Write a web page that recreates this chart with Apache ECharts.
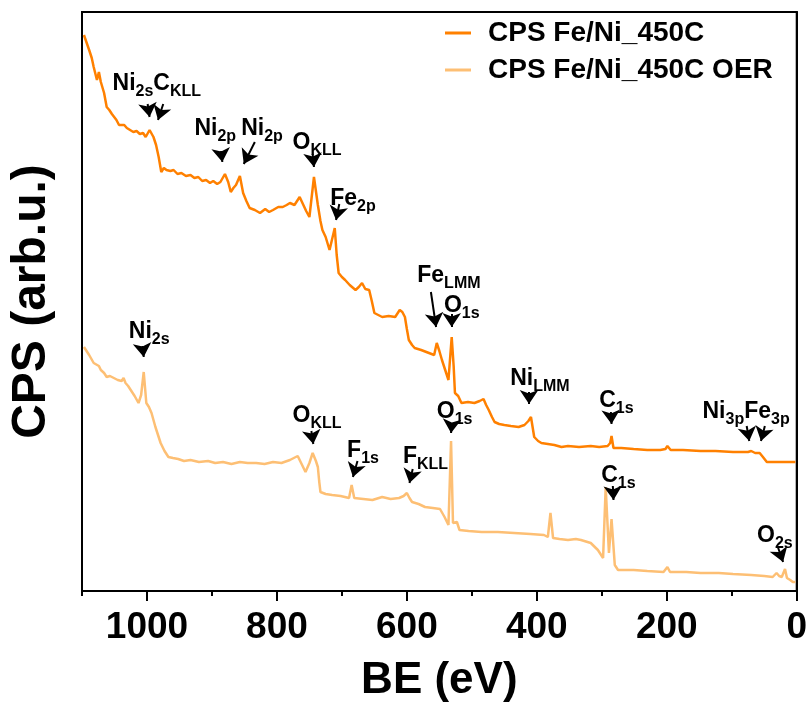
<!DOCTYPE html>
<html>
<head>
<meta charset="utf-8">
<script src="https://cdn.jsdelivr.net/npm/echarts@6/dist/echarts.min.js"></script>
<style>
  html, body { margin: 0; padding: 0; background: #fff; }
  #chart { width: 810px; height: 712px; }
</style>
</head>
<body>
<div id="chart"></div>
<script>
// 数据: [结合能 eV, 强度 (任意单位)]
const pristine = [
  [1097, 556], [1089, 541], [1085, 533], [1082, 524], [1077, 511], [1074, 519], [1071, 509],
  [1066, 498], [1062, 484], [1058, 481], [1054, 477], [1047, 471], [1043, 466], [1040, 464],
  [1035, 466], [1031, 463], [1026, 461], [1021, 459], [1016, 460], [1011, 457], [1006, 458],
  [1002, 454], [996, 461], [990, 454], [986, 446], [982, 434], [978, 419], [974, 423], [970, 421],
  [964, 420], [959, 421], [953, 417], [947, 418], [940, 415], [933, 416], [927, 413], [921, 414],
  [915, 410], [909, 411], [903, 408], [898, 410], [892, 407], [887, 409], [880, 417], [875, 409],
  [871, 399], [867, 403], [863, 406], [857, 415], [852, 398], [847, 390], [842, 383], [834, 381],
  [826, 378], [818, 382], [812, 379], [806, 381], [798, 384], [791, 384], [785, 386], [780, 388],
  [773, 386], [765, 394], [760, 387], [755, 380], [750, 374], [743, 414], [737, 386], [733, 370],
  [730, 361], [725, 354], [719, 341], [711, 363], [708, 336], [705, 318], [700, 314], [695, 311],
  [688, 306], [679, 301], [674, 304], [669, 308], [664, 302], [658, 301], [654, 290], [650, 278],
  [644, 276], [638, 274], [628, 275], [618, 274], [611, 281], [607, 279], [603, 274], [600, 262],
  [597, 251], [592, 246], [588, 243], [578, 241], [566, 238], [558, 236], [554, 248], [550, 240],
  [546, 231], [541, 221], [536, 211], [531, 254], [528, 225], [526, 198], [521, 195], [516, 188],
  [506, 189], [496, 188], [488, 190], [482, 192], [478, 186], [474, 181], [469, 174], [465, 169],
  [458, 167], [450, 166], [440, 165], [428, 164], [419, 166], [413, 170], [409, 174], [404, 154],
  [398, 150], [393, 148], [383, 147], [373, 146], [362, 144], [352, 145], [335, 144], [317, 145],
  [304, 144], [291, 145], [287, 148], [285, 155], [282, 143], [270, 143], [251, 142], [230, 141],
  [210, 141], [202, 142], [199, 145], [194, 141], [175, 141], [148, 140], [125, 140], [98, 139],
  [85, 139], [75, 139], [70, 140], [67, 141], [64, 138], [61, 136], [57, 138], [52, 134],
  [46, 129], [36, 129], [26, 129], [16, 129], [6, 129], [2, 129]
];
const afterOER = [
  [1097, 244], [1089, 236], [1082, 228], [1074, 225], [1071, 221], [1066, 218], [1062, 214],
  [1057, 215], [1051, 213], [1045, 211], [1039, 210], [1036, 213], [1033, 208], [1029, 205],
  [1025, 201], [1019, 195], [1013, 188], [1009, 196], [1005, 219], [1001, 188], [997, 184],
  [993, 178], [987, 164], [983, 156], [979, 148], [973, 140], [967, 134], [960, 133], [952, 132],
  [943, 130], [933, 131], [920, 129], [906, 130], [895, 128], [883, 129], [870, 127], [857, 129],
  [845, 128], [832, 128], [819, 127], [806, 129], [793, 128], [780, 131], [774, 133], [768, 135],
  [762, 127], [756, 119], [750, 128], [745, 138], [740, 130], [737, 124], [735, 110], [733, 99],
  [725, 97], [715, 96], [702, 95], [689, 93], [685, 106], [681, 93], [667, 92], [653, 91],
  [638, 94], [625, 92], [612, 93], [605, 95], [600, 98], [596, 93], [592, 89], [582, 87],
  [572, 84], [560, 83], [549, 82], [542, 74], [536, 66], [532, 150], [529, 68], [523, 69],
  [519, 61], [505, 60], [485, 59], [460, 59], [435, 58], [410, 57], [389, 56], [383, 54],
  [379, 78], [375, 53], [365, 52], [352, 51], [340, 52], [332, 51], [317, 48], [306, 41],
  [298, 33], [294, 104], [289, 38], [285, 72], [280, 26], [275, 21], [262, 21], [251, 21],
  [230, 20], [205, 19], [199, 24], [195, 19], [170, 19], [148, 18], [120, 18], [98, 17],
  [70, 16], [50, 15], [37, 14], [31, 18], [27, 15], [23, 14], [18, 22], [15, 13], [10, 11],
  [6, 9], [2, 9]
];
// 峰标注: [eV, 强度, 文本]
const peakLabels = [
  [1053, 519, '{m|Ni}{s|2s}{m|C}{s|KLL}'],
  [927, 474, '{m|Ni}{s|2p}'],
  [855, 474, '{m|Ni}{s|2p}'],
  [776, 460, '{m|O}{s|KLL}'],
  [718, 404, '{m|Fe}{s|2p}'],
  [584, 327, '{m|Fe}{s|LMM}'],
  [543, 297, '{m|O}{s|1s}'],
  [441, 224, '{m|Ni}{s|LMM}'],
  [304, 202, '{m|C}{s|1s}'],
  [145, 191, '{m|Ni}{s|3p}{m|Fe}{s|3p}'],
  [1028, 271, '{m|Ni}{s|2s}'],
  [776, 187, '{m|O}{s|KLL}'],
  [692, 152, '{m|F}{s|1s}'],
  [606, 146, '{m|F}{s|KLL}'],
  [554, 191, '{m|O}{s|1s}'],
  [301, 127, '{m|C}{s|1s}'],
  [61, 67, '{m|O}{s|2s}']
];
// 箭头: [起点 eV, 起点强度, 终点 eV, 终点强度]
const arrows = [
  [999, 487, 996, 474], [975, 487, 983, 471], [886, 440, 884, 429], [834, 449, 851, 427],
  [745, 437, 743, 424], [704, 387, 709, 371], [563, 299, 555, 264], [531, 277, 531, 264],
  [412, 199, 412, 187], [286, 179, 285, 167], [77, 165, 73, 150], [49, 165, 55, 150],
  [1007, 245, 1005, 234], [747, 160, 744, 147], [676, 130, 683, 114], [591, 122, 596, 108],
  [531, 167, 532, 158], [283, 105, 282, 91], [29, 44, 21, 29]
];
const majorTicks = [0, 200, 400, 600, 800, 1000];
const minorTicks = [100, 300, 500, 700, 900, 1100];

const FONT = "'Liberation Sans', Arial, sans-serif";
const chart = echarts.init(document.getElementById('chart'));

const option = {
  animation: false,
  grid: { left: 78, right: 13, top: 12, bottom: 121, show: true, borderColor: '#000', borderWidth: 2 },
  legend: {
    data: ['CPS Fe/Ni_450C', 'CPS Fe/Ni_450C OER'],
    orient: 'vertical',
    left: 440,
    top: 13,
    icon: 'rect',
    itemWidth: 26,
    itemHeight: 3,
    itemGap: 7,
    textStyle: { fontSize: 28, fontWeight: 'bold', color: '#000', fontFamily: FONT, padding: [0, 0, 0, 12], lineHeight: 30 }
  },
  xAxis: [
    {
      type: 'value', min: 0, max: 1100, inverse: true, position: 'bottom',
      name: 'BE (eV)', nameLocation: 'middle', nameGap: 68,
      nameTextStyle: { fontSize: 44, fontWeight: 'bold', color: '#000', fontFamily: FONT },
      axisLine: { lineStyle: { color: '#000', width: 2 } },
      axisTick: { customValues: majorTicks, length: 10, lineStyle: { color: '#000', width: 2 } },
      axisLabel: {
        customValues: majorTicks, fontSize: 37, fontWeight: 'bold', color: '#000', fontFamily: FONT, margin: 18,
        formatter: v => String(v)
      },
      splitLine: { show: false }
    },
    {
      type: 'value', min: 0, max: 1100, inverse: true, position: 'bottom',
      axisLine: { show: false },
      axisTick: { customValues: minorTicks, length: 5, lineStyle: { color: '#000', width: 2 } },
      axisLabel: { show: false },
      splitLine: { show: false }
    }
  ],
  yAxis: {
    type: 'value', min: 0, max: 579,
    name: 'CPS (arb.u.)', nameLocation: 'middle', nameGap: 26,
    nameTextStyle: { fontSize: 48, fontWeight: 'bold', color: '#000', fontFamily: FONT },
    axisLine: { show: true, lineStyle: { color: '#000', width: 2 } },
    axisTick: { show: false },
    axisLabel: { show: false },
    splitLine: { show: false }
  },
  series: [
    {
      name: 'CPS Fe/Ni_450C', type: 'line', data: pristine, showSymbol: false, symbol: 'none',
      lineStyle: { color: '#FF8000', width: 2.5 }, itemStyle: { color: '#FF8000' }, z: 3
    },
    {
      name: 'CPS Fe/Ni_450C OER', type: 'line', data: afterOER, showSymbol: false, symbol: 'none',
      lineStyle: { color: '#FDBF74', width: 2.5 }, itemStyle: { color: '#FDBF74' }, z: 2
    },
    {
      name: 'notes', type: 'scatter', symbolSize: 0, silent: true, z: 5,
      itemStyle: { opacity: 1, color: '#000' },
      data: peakLabels.map(p => [p[0], p[1], p[2]]),
      label: {
        show: true, position: [0, 0], align: 'left', verticalAlign: 'top', color: '#000',
        formatter: p => p.data[2],
        rich: {
          m: { fontSize: 23, fontWeight: 'bold', color: '#000', fontFamily: FONT, verticalAlign: 'top' },
          s: { fontSize: 16, fontWeight: 'bold', color: '#000', fontFamily: FONT, verticalAlign: 'top', padding: [12, 0, 0, 0] }
        }
      },
      markLine: {
        silent: true, symbol: ['none', 'arrow'], symbolSize: 14,
        lineStyle: { color: '#000', width: 2, type: 'solid', opacity: 1 },
        label: { show: false },
        emphasis: { disabled: true },
        data: arrows.map(a => [{ coord: [a[0], a[1]] }, { coord: [a[2], a[3]] }])
      }
    }
  ]
};
chart.setOption(option);
</script>
</body>
</html>
